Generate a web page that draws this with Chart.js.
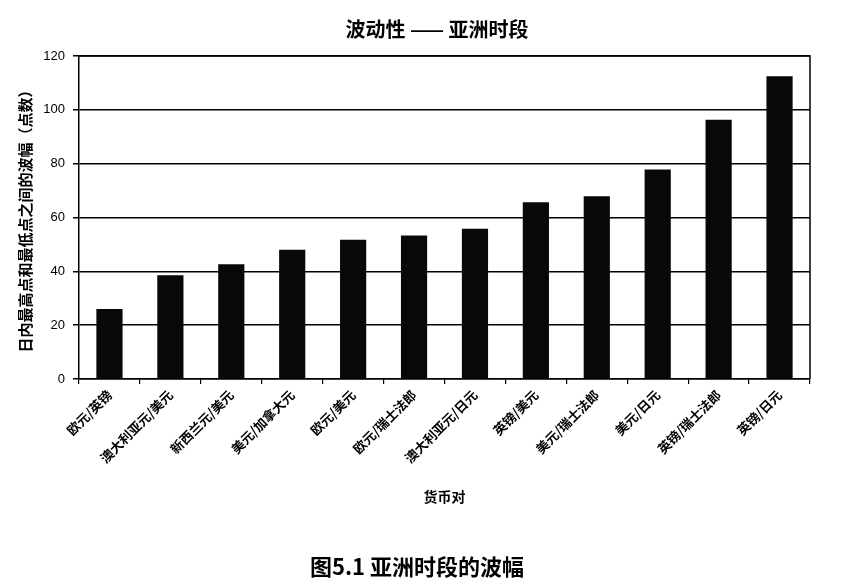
<!DOCTYPE html>
<html><head><meta charset="utf-8">
<script src="https://cdn.jsdelivr.net/npm/chart.js@4"></script>
<style>html,body{margin:0;padding:0;background:#fff}#wrap{width:846px;height:588px;position:relative}</style>
</head><body><div id="wrap"><canvas id="c" width="846" height="588"></canvas></div>
<script>
const categories = ['欧元/英镑','澳大利亚元/美元','新西兰元/美元','美元/加拿大元','欧元/美元','欧元/瑞士法郎','澳大利亚元/日元','英镑/美元','美元/瑞士法郎','美元/日元','英镑/瑞士法郎','英镑/日元'];
const rangeValues = [26, 38.5, 42.6, 48, 51.7, 53.3, 55.8, 65.7, 67.9, 77.8, 96.3, 112.5];
const yTickValues = [0, 20, 40, 60, 80, 100, 120];
const chartTitle = '波动性 —— 亚洲时段';
const captionText = '图5.1 亚洲时段的波幅';
const xAxisTitle = '货币对';
const yAxisTitle = '日内最高点和最低点之间的波幅（点数）';

const CJK = '"Noto Sans CJK SC", "Noto Sans", sans-serif';
const LAT = '"Liberation Sans", Arial, sans-serif';

const framePlugin = {
  id: 'frame',
  afterDraw(chart) {
    const {ctx, chartArea: a} = chart;
    ctx.save();
    ctx.strokeStyle = '#000';
    ctx.lineWidth = 1.5;
    ctx.beginPath();
    ctx.moveTo(a.left, a.top);
    ctx.lineTo(a.right, a.top);
    ctx.lineTo(a.right, a.bottom);
    ctx.stroke();
    ctx.fillStyle = '#000';
    ctx.textAlign = 'center';
    ctx.textBaseline = 'middle';
    ctx.font = 'bold 20px ' + CJK;
    ctx.fillText(chartTitle, 437, 29);
    ctx.font = 'bold 22px ' + CJK;
    ctx.fillText(captionText, 417, 567);
    ctx.restore();
  }
};

new Chart(document.getElementById('c'), {
  type: 'bar',
  data: {
    labels: categories,
    datasets: [{
      data: rangeValues,
      backgroundColor: '#080808',
      borderWidth: 0,
      barPercentage: 0.43,
      categoryPercentage: 1
    }]
  },
  options: {
    responsive: false,
    animation: false,
    devicePixelRatio: 1,
    layout: { padding: { top: 56, right: 36, bottom: 79, left: 0 } },
    plugins: { legend: { display: false }, tooltip: { enabled: false }, title: { display: false } },
    scales: {
      x: {
        afterFit(s) { s.height = 130; },
        grid: { display: true, drawOnChartArea: false, drawTicks: true, tickLength: 5, color: '#000', lineWidth: 1.2, offset: true },
        border: { display: true, color: '#000', width: 1.5 },
        ticks: { autoSkip: false, minRotation: 45, maxRotation: 45, padding: 3, color: '#000', font: { family: CJK, size: 13, weight: 'bold' } },
        title: { display: true, text: xAxisTitle, color: '#000', font: { family: CJK, size: 14, weight: 'bold' }, padding: { top: 0, bottom: 4 } }
      },
      y: {
        afterFit(s) { s.width = 79; },
        min: 0, max: 120,
        afterBuildTicks(s) { s.ticks = yTickValues.map(v => ({ value: v })); },
        grid: { color: '#000', lineWidth: 1.5, tickLength: 6 },
        border: { display: true, color: '#000', width: 1.5 },
        ticks: { padding: 8, color: '#000', font: { family: LAT, size: 13 } },
        title: { display: true, text: yAxisTitle, color: '#000', font: { family: CJK, size: 15, weight: 'bold' }, padding: { top: 16, bottom: 0 } }
      }
    }
  },
  plugins: [framePlugin]
});
</script></body></html>
